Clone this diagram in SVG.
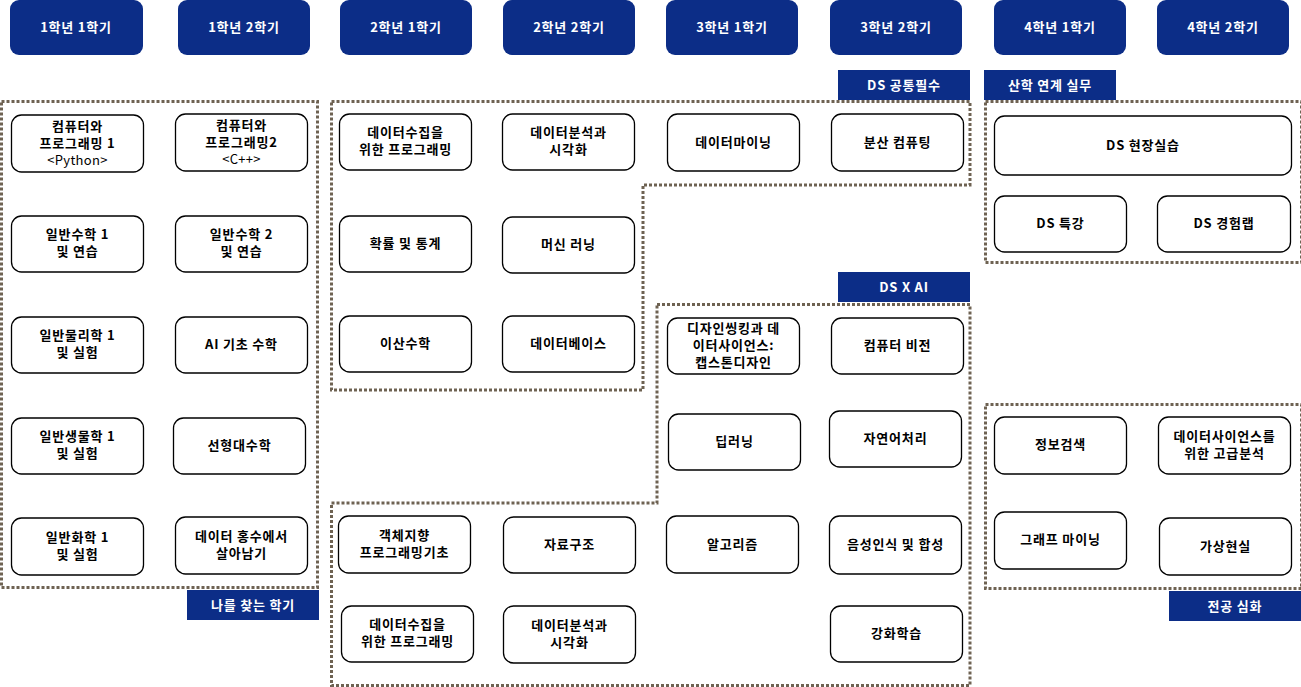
<svg xmlns="http://www.w3.org/2000/svg" width="1301" height="687" viewBox="0 0 1301 687">
<style>
.hdr{fill:#0c2d87}
.ht{fill:#fff;font-family:"Noto Sans CJK KR","Noto Sans",sans-serif;font-size:13px;font-weight:bold;text-anchor:middle;letter-spacing:0.8px}
.n{fill:#fff;stroke:#000;stroke-width:1.3}
.t{fill:#000;font-family:"Noto Sans CJK KR","Noto Sans",sans-serif;font-size:13px;font-weight:bold;text-anchor:middle;letter-spacing:0.8px}
.r{font-weight:normal;letter-spacing:0.3px}
.d{fill:none;stroke:#6e6252;stroke-width:3;stroke-dasharray:3 2}
</style>
<rect width="1301" height="687" fill="#fff"/>
<g id="headers">
<g id="h1"><rect class="hdr" x="10" y="0" width="133" height="55" rx="9"/><text class="ht" x="76" y="32">1학년 1학기</text></g>
<g id="h2"><rect class="hdr" x="178" y="0" width="132" height="55" rx="9"/><text class="ht" x="244" y="32">1학년 2학기</text></g>
<g id="h3"><rect class="hdr" x="340" y="0" width="132" height="55" rx="9"/><text class="ht" x="406" y="32">2학년 1학기</text></g>
<g id="h4"><rect class="hdr" x="503" y="0" width="132" height="55" rx="9"/><text class="ht" x="569" y="32">2학년 2학기</text></g>
<g id="h5"><rect class="hdr" x="666" y="0" width="132" height="55" rx="9"/><text class="ht" x="732" y="32">3학년 1학기</text></g>
<g id="h6"><rect class="hdr" x="830" y="0" width="132" height="55" rx="9"/><text class="ht" x="896" y="32">3학년 2학기</text></g>
<g id="h7"><rect class="hdr" x="994" y="0" width="132" height="55" rx="9"/><text class="ht" x="1060" y="32">4학년 1학기</text></g>
<g id="h8"><rect class="hdr" x="1157" y="0" width="132" height="55" rx="9"/><text class="ht" x="1223" y="32">4학년 2학기</text></g>
</g>
<g id="regions">
<rect class="d" x="1.5" y="101.5" width="316" height="486"/>
<path class="d" d="M331.5,101.5 H970 V185 H643 V390 H331.5 Z"/>
<path class="d" d="M657,304.5 H970 V685.5 H331.5 V503 H657 Z"/>
<rect class="d" x="985.5" y="101.5" width="316" height="161"/>
<rect class="d" x="985.5" y="404.5" width="316" height="184"/>
</g>
<g id="labels">
<g id="l1"><rect class="hdr" x="187" y="590" width="132" height="30"/><text class="ht" x="253" y="610">나를 찾는 학기</text></g>
<g id="l2"><rect class="hdr" x="838" y="70" width="132" height="30"/><text class="ht" x="904" y="90">DS 공통필수</text></g>
<g id="l3"><rect class="hdr" x="838" y="272" width="132" height="30"/><text class="ht" x="904" y="292">DS X AI</text></g>
<g id="l4"><rect class="hdr" x="984" y="70" width="132" height="30"/><text class="ht" x="1050" y="90">산학 연계 실무</text></g>
<g id="l5"><rect class="hdr" x="1169" y="591" width="132" height="30"/><text class="ht" x="1235" y="611">전공 심화</text></g>
</g>
<g id="connectors"></g>
<g id="n1"><rect class="n" x="11.5" y="115" width="132" height="57" rx="10"/><text class="t" x="77.5" y="131">컴퓨터와</text><text class="t" x="77.5" y="148">프로그래밍 1</text><text class="t r" x="77.5" y="165">&lt;Python&gt;</text></g>
<g id="n2"><rect class="n" x="175.5" y="114" width="132" height="57" rx="10"/><text class="t" x="241.5" y="130">컴퓨터와</text><text class="t" x="241.5" y="147">프로그래밍2</text><text class="t r" x="241.5" y="164">&lt;C++&gt;</text></g>
<g id="n3"><rect class="n" x="11.5" y="216" width="132" height="56" rx="10"/><text class="t" x="77.5" y="239">일반수학 1</text><text class="t" x="77.5" y="256">및 연습</text></g>
<g id="n4"><rect class="n" x="175.5" y="216" width="132" height="56" rx="10"/><text class="t" x="241.5" y="239">일반수학 2</text><text class="t" x="241.5" y="256">및 연습</text></g>
<g id="n5"><rect class="n" x="11.5" y="317" width="132" height="56" rx="10"/><text class="t" x="77.5" y="340">일반물리학 1</text><text class="t" x="77.5" y="357">및 실험</text></g>
<g id="n6"><rect class="n" x="175.5" y="317" width="132" height="56" rx="10"/><text class="t" x="241.5" y="349">AI 기초 수학</text></g>
<g id="n7"><rect class="n" x="11.5" y="418" width="132" height="56" rx="10"/><text class="t" x="77.5" y="441">일반생물학 1</text><text class="t" x="77.5" y="458">및 실험</text></g>
<g id="n8"><rect class="n" x="173.5" y="418" width="132" height="56" rx="10"/><text class="t" x="239.5" y="450">선형대수학</text></g>
<g id="n9"><rect class="n" x="11.5" y="518" width="132" height="57" rx="10"/><text class="t" x="77.5" y="542">일반화학 1</text><text class="t" x="77.5" y="559">및 실험</text></g>
<g id="n10"><rect class="n" x="175.5" y="517" width="132" height="57" rx="10"/><text class="t" x="241.5" y="541">데이터 홍수에서</text><text class="t" x="241.5" y="558">살아남기</text></g>
<g id="n11"><rect class="n" x="339.5" y="114" width="132" height="56" rx="10"/><text class="t" x="405.5" y="137">데이터수집을</text><text class="t" x="405.5" y="154">위한 프로그래밍</text></g>
<g id="n12"><rect class="n" x="502.5" y="114" width="132" height="56" rx="10"/><text class="t" x="568.5" y="137">데이터분석과</text><text class="t" x="568.5" y="154">시각화</text></g>
<g id="n13"><rect class="n" x="667.5" y="114" width="132" height="57" rx="10"/><text class="t" x="733.5" y="147">데이터마이닝</text></g>
<g id="n14"><rect class="n" x="831.5" y="114" width="132" height="57" rx="10"/><text class="t" x="897.5" y="147">분산 컴퓨팅</text></g>
<g id="n15"><rect class="n" x="339.5" y="216" width="132" height="56" rx="10"/><text class="t" x="405.5" y="248">확률 및 통계</text></g>
<g id="n16"><rect class="n" x="502.5" y="217" width="132" height="56" rx="10"/><text class="t" x="568.5" y="249">머신 러닝</text></g>
<g id="n17"><rect class="n" x="339.5" y="316" width="132" height="56" rx="10"/><text class="t" x="405.5" y="348">이산수학</text></g>
<g id="n18"><rect class="n" x="502.5" y="316" width="132" height="56" rx="10"/><text class="t" x="568.5" y="348">데이터베이스</text></g>
<g id="n19"><rect class="n" x="667.5" y="318" width="132" height="56" rx="10"/><text class="t" x="733.5" y="333">디자인씽킹과 데</text><text class="t" x="733.5" y="350">이터사이언스:</text><text class="t" x="733.5" y="367">캡스톤디자인</text></g>
<g id="n20"><rect class="n" x="831.5" y="318" width="132" height="56" rx="10"/><text class="t" x="897.5" y="350">컴퓨터 비전</text></g>
<g id="n21"><rect class="n" x="668.5" y="414" width="132" height="56" rx="10"/><text class="t" x="734.5" y="446">딥러닝</text></g>
<g id="n22"><rect class="n" x="829.5" y="411" width="132" height="56" rx="10"/><text class="t" x="895.5" y="443">자연어처리</text></g>
<g id="n23"><rect class="n" x="338.5" y="516" width="132" height="57" rx="10"/><text class="t" x="404.5" y="540">객체지향</text><text class="t" x="404.5" y="557">프로그래밍기초</text></g>
<g id="n24"><rect class="n" x="503.5" y="517" width="132" height="56" rx="10"/><text class="t" x="569.5" y="549">자료구조</text></g>
<g id="n25"><rect class="n" x="666.5" y="516" width="132" height="57" rx="10"/><text class="t" x="732.5" y="549">알고리즘</text></g>
<g id="n26"><rect class="n" x="829.5" y="516" width="132" height="58" rx="10"/><text class="t" x="895.5" y="549">음성인식 및 합성</text></g>
<g id="n27"><rect class="n" x="341.5" y="606" width="132" height="56" rx="10"/><text class="t" x="407.5" y="629">데이터수집을</text><text class="t" x="407.5" y="646">위한 프로그래밍</text></g>
<g id="n28"><rect class="n" x="503.5" y="606" width="132" height="57" rx="10"/><text class="t" x="569.5" y="630">데이터분석과</text><text class="t" x="569.5" y="647">시각화</text></g>
<g id="n29"><rect class="n" x="830.5" y="606" width="132" height="56" rx="10"/><text class="t" x="896.5" y="638">강화학습</text></g>
<g id="n30"><rect class="n" x="994.5" y="116" width="297" height="59" rx="10"/><text class="t" x="1143" y="150">DS 현장실습</text></g>
<g id="n31"><rect class="n" x="994.5" y="196" width="132" height="56" rx="10"/><text class="t" x="1060.5" y="228">DS 특강</text></g>
<g id="n32"><rect class="n" x="1157.5" y="196" width="133" height="56" rx="10"/><text class="t" x="1224" y="228">DS 경험랩</text></g>
<g id="n33"><rect class="n" x="994.5" y="417" width="132" height="57" rx="10"/><text class="t" x="1060.5" y="449">정보검색</text></g>
<g id="n34"><rect class="n" x="1158.5" y="417" width="132" height="57" rx="10"/><text class="t" x="1224.5" y="441">데이터사이언스를</text><text class="t" x="1224.5" y="458">위한 고급분석</text></g>
<g id="n35"><rect class="n" x="994.5" y="512" width="132" height="57" rx="10"/><text class="t" x="1060.5" y="544">그래프 마이닝</text></g>
<g id="n36"><rect class="n" x="1159.5" y="518" width="132" height="57" rx="10"/><text class="t" x="1225.5" y="551">가상현실</text></g>
</svg>
